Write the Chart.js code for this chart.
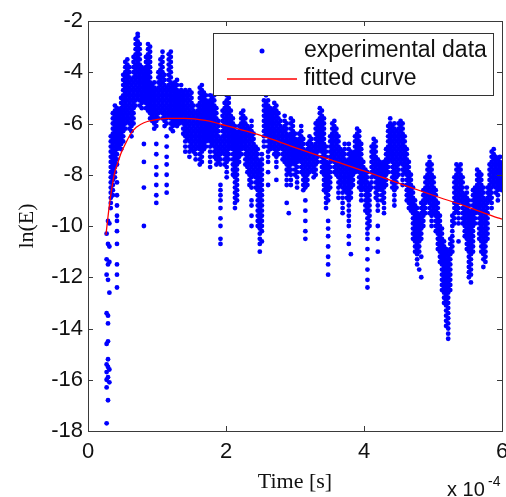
<!DOCTYPE html>
<html>
<head>
<meta charset="utf-8">
<script src="https://cdn.jsdelivr.net/npm/chart.js@4.4.1/dist/chart.umd.min.js"></script>
<style>
  html, body { margin: 0; padding: 0; background: #fff; }
</style>
</head>
<body>
<canvas id="chart1" width="506" height="497"></canvas>
<script>
// time axis is in units of 1e-4 s (shown as "x 10^-4")
var xTicks = [0, 2, 4, 6];
var yTicks = [-18, -16, -14, -12, -10, -8, -6, -4, -2];

// experimental data: each time column holds the ln(E) dots read at that time
var expTime = [
  0.27,0.29,0.31,0.33,0.36,0.39,0.42,0.45,0.48,0.51,
  0.54,0.57,0.60,0.63,0.66,0.69,0.72,0.75,0.78,0.81,
  0.84,0.87,0.90,0.93,0.96,0.99,1.02,1.05,1.08,1.11,
  1.14,1.17,1.20,1.23,1.26,1.29,1.32,1.35,1.38,1.41,
  1.44,1.47,1.50,1.53,1.56,1.59,1.62,1.65,1.68,1.71,
  1.74,1.77,1.80,1.83,1.86,1.89,1.92,1.95,1.98,2.01,
  2.04,2.07,2.10,2.13,2.16,2.19,2.22,2.25,2.28,2.31,
  2.34,2.37,2.40,2.43,2.46,2.49,2.52,2.55,2.58,2.61,
  2.64,2.67,2.70,2.73,2.76,2.79,2.82,2.85,2.88,2.91,
  2.94,2.97,3.00,3.03,3.06,3.09,3.12,3.15,3.18,3.21,
  3.24,3.27,3.30,3.33,3.36,3.39,3.42,3.45,3.48,3.51,
  3.54,3.57,3.60,3.63,3.66,3.69,3.72,3.75,3.78,3.81,
  3.84,3.87,3.90,3.93,3.96,3.99,4.02,4.05,4.08,4.11,
  4.14,4.17,4.20,4.23,4.26,4.29,4.32,4.35,4.38,4.41,
  4.44,4.47,4.50,4.53,4.56,4.59,4.62,4.65,4.68,4.71,
  4.74,4.77,4.80,4.83,4.86,4.89,4.92,4.95,4.98,5.01,
  5.04,5.07,5.10,5.13,5.16,5.19,5.22,5.25,5.28,5.31,
  5.34,5.37,5.40,5.43,5.46,5.49,5.52,5.55,5.58,5.61,
  5.64,5.67,5.70,5.73,5.76,5.79,5.82,5.85,5.88,5.91,
  5.94,5.97,6.00
];

var expLnE = [
  // 0.27 - 0.51
  [-10.3,-11.3,-11.9,-13.4,-14.6,-15.4,-15.7,-16,-16.3,-17.7],
  [-9.8,-10.7,-11.5,-12.1,-13.5,-13.8,-14.5,-15.2,-15.5,-15.9,-16.8],
  [-9.9,-10.8,-11.4,-12.6,-15.6,-16.1],
  [-6.5,-6.7,-6.9,-7.1,-7.3,-7.5,-7.7,-7.9,-8.1,-8.3,-8.5,-8.7,-8.9,-9.1,-9.3],
  [-5.6,-5.8,-6,-6.2,-6.4,-6.6,-6.8,-7,-7.2,-7.4,-7.6,-7.8,-8,-8.2,-8.4,-8.6,-8.8],
  [-5.3,-5.5,-5.7,-5.9,-6.1,-6.3,-6.5,-6.7,-6.9,-7.1,-7.3,-7.5,-7.7,-7.9,-8.1],
  [-5.4,-5.6,-5.8,-6,-6.2,-6.4,-6.6,-6.8,-7,-7.2,-7.4,-7.6,-8.3,-8.8,-9.2,-9.6,-9.8,-10.2,-10.7,-11.5,-11.9,-12.4],
  [-5.5,-5.7,-5.9,-6.1,-6.3,-6.5,-6.7,-6.9],
  [-5,-5.2,-5.4,-5.6,-5.8,-6,-6.2,-6.4,-6.6,-6.8,-7],
  [-4.1,-4.3,-4.5,-4.7,-4.9,-5.1,-5.3,-5.5,-5.7,-5.9,-6.1,-6.3,-6.5,-6.7],
  // 0.54 - 0.81
  [-3.6,-3.8,-4,-4.2,-4.4,-4.6,-4.8,-5,-5.2,-5.4,-5.6,-5.8,-6,-6.2],
  [-3.5,-3.7,-3.9,-4.1,-4.3,-4.5,-4.7,-4.9,-5.1,-5.3,-5.5,-5.7,-5.9],
  [-3.8,-4,-4.2,-4.4,-4.6,-4.8,-5,-5.2,-5.4,-5.6,-5.8,-6,-6.2],
  [-4.3,-4.5,-4.7,-4.9,-5.1,-5.3,-5.5,-5.7,-5.9,-6.1,-6.3,-6.5],
  [-3.4,-3.6,-3.8,-4,-4.2,-4.4,-4.6,-4.8,-5,-5.2,-5.4,-5.6,-5.8,-6],
  [-2.7,-2.9,-3.1,-3.3,-3.5,-3.7,-3.9,-4.1,-4.3,-4.5,-4.7,-4.9,-5.1,-5.3],
  [-2.5,-2.6,-2.8,-3,-3.2,-3.4,-3.6,-3.8,-4,-4.2,-4.4,-4.6,-4.8,-5],
  [-2.9,-3.1,-3.3,-3.5,-3.7,-3.9,-4.1,-4.3,-4.5,-4.7,-4.9,-5.1,-5.3],
  [-3.8,-4,-4.2,-4.4,-4.6,-4.8,-5,-5.2,-5.4],
  [-3.9,-4.1,-4.3,-4.5,-4.7,-4.9,-5.1,-6.8,-7.5,-8.5,-10],
  // 0.84 - 1.11
  [-3.4,-3.6,-3.8,-4,-4.2,-4.4,-4.6,-4.8,-5,-5.2,-5.4],
  [-2.9,-3.1,-3.3,-3.5,-3.7,-3.9,-4.1,-4.3,-4.5,-4.7,-4.9,-5.1,-5.3,-5.5],
  [-3,-3.2,-3.4,-3.6,-3.8,-4,-4.2,-4.4,-4.6,-4.8,-5,-5.2,-5.4,-5.6,-5.8],
  [-4.5,-4.7,-4.9,-5.1,-5.3,-5.5,-5.7,-5.9],
  [-4.4,-4.6,-4.8,-5,-5.2,-5.4,-5.6,-5.8,-6,-6.2],
  [-4.7,-4.9,-5.1,-5.3,-5.5,-5.7,-5.9,-6.1,-6.8,-7.2,-7.7,-8,-8.4,-8.8,-9.1],
  [-4,-4.2,-4.4,-4.6,-4.8,-5,-5.2,-5.4,-5.6,-5.8],
  [-3.5,-3.7,-3.9,-4.1,-4.3,-4.5,-4.7,-4.9,-5.1,-5.3,-5.5],
  [-3.2,-3.4,-3.6,-3.8,-4,-4.2,-4.4,-4.6,-4.8,-5,-5.2,-5.4,-5.6,-5.8],
  [-4.1,-4.3,-4.5,-4.7,-4.9,-5.1,-5.3,-5.5,-5.7,-5.9,-6.1],
  // 1.14 - 1.41
  [-4.6,-4.8,-5,-5.2,-5.4,-5.6,-5.8,-6,-6.5,-6.9,-7.3,-7.6,-8,-8.4,-8.7],
  [-3.3,-3.5,-3.7,-3.9,-4.1,-4.3,-4.5,-4.7,-4.9,-5.1,-5.3,-5.5,-5.7],
  [-3.2,-3.4,-3.6,-3.8,-4,-4.2,-4.4,-4.6,-4.8,-5,-5.2,-5.4,-5.6,-5.8,-6,-6.2],
  [-4.5,-4.7,-4.9,-5.1,-5.3,-5.5,-5.7,-5.9,-6.1,-6.3],
  [-4.4,-4.6,-4.8,-5,-5.2,-5.4,-5.6,-5.8,-6],
  [-4.3,-4.5,-4.7,-4.9,-5.1,-5.3,-5.5,-5.7,-5.9,-6.1],
  [-4.8,-5,-5.2,-5.4,-5.6,-5.8,-6],
  [-4.5,-4.7,-4.9,-5.1,-5.3,-5.5,-5.7,-5.9],
  [-4.8,-5,-5.2,-5.4,-5.6,-5.8,-6,-6.2,-6.4],
  [-4.7,-4.9,-5.1,-5.3,-5.5,-5.7,-5.9,-6.1,-6.3,-6.5,-6.7,-6.9,-7.1],
  // 1.44 - 1.71
  [-4.8,-5,-5.2,-5.4,-5.6,-5.8,-6,-6.2,-6.4,-6.6],
  [-4.7,-4.9,-5.1,-5.3,-5.5,-5.7,-5.9,-6.1,-6.3,-6.5,-6.7,-6.9,-7.1,-7.3],
  [-4.8,-5,-5.2,-5.4,-5.6,-5.8,-6,-6.2,-6.4,-6.6,-6.8,-7],
  [-5.3,-5.5,-5.7,-5.9,-6.1,-6.3,-6.5,-6.7,-6.9,-7.1],
  [-5.6,-5.8,-6,-6.2,-6.4,-6.6,-6.8,-7,-7.2,-7.4],
  [-5.3,-5.5,-5.7,-5.9,-6.1,-6.3,-6.5,-6.7,-6.9],
  [-4.6,-4.8,-5,-5.2,-5.4,-5.6,-5.8,-6,-6.2,-6.4,-6.6,-6.8,-7,-7.2,-7.4,-7.6],
  [-4.5,-4.7,-4.9,-5.1,-5.3,-5.5,-5.7,-5.9,-6.1,-6.3,-6.5,-6.7,-6.9,-7.1,-7.3,-7.5],
  [-4.8,-5,-5.2,-5.4,-5.6,-5.8,-6,-6.2,-6.4,-6.6,-6.8,-7],
  [-4.9,-5.1,-5.3,-5.5,-5.7,-5.9,-6.1,-6.3,-6.5,-6.7,-6.9],
  // 1.74 - 2.01
  [-5.2,-5.4,-5.6,-5.8,-6,-6.2,-6.4,-6.6],
  [-4.9,-5.1,-5.3,-5.5,-5.7,-5.9,-6.1,-6.3,-6.5,-6.7,-6.9,-7.1,-7.3,-7.5,-7.7],
  [-5,-5.2,-5.4,-5.6,-5.8,-6,-6.2,-6.4,-6.6,-6.8],
  [-4.9,-5.1,-5.3,-5.5,-5.7,-5.9,-6.1,-6.3,-6.5,-6.7,-6.9,-7.1,-7.3],
  [-5.4,-5.6,-5.8,-6,-6.2,-6.4,-6.6,-6.8,-7,-7.2,-7.4,-7.6],
  [-5.9,-6.1,-6.3,-6.5,-6.7,-6.9,-7.1,-7.3,-7.5],
  [-6.6,-6.8,-7,-7.2,-7.4,-7.6,-8.4,-8.6,-8.8,-9,-9.3,-9.7,-10,-10.5,-10.7],
  [-5.5,-5.7,-5.9,-6.1,-6.3,-6.5,-6.7,-6.9,-7.1],
  [-5.2,-5.4,-5.6,-5.8,-6,-6.2,-6.4,-6.6,-6.8,-7,-7.2,-7.4,-7.6],
  [-4.9,-5.1,-5.3,-5.5,-5.7,-5.9,-6.1,-6.3,-6.5,-6.7,-6.9,-7.1,-7.3,-7.5,-7.7,-7.9,-8.1],
  // 2.04 - 2.31
  [-5,-5.2,-5.4,-5.6,-5.8,-6,-6.2,-6.4,-6.6,-6.8,-7,-7.2,-7.4],
  [-5.5,-5.7,-5.9,-6.1,-6.3,-6.5,-6.7,-6.9],
  [-5.8,-6,-6.2,-6.4,-6.6,-6.8,-7,-7.2,-7.4,-7.6,-7.8,-8],
  [-6.1,-6.3,-6.5,-6.7,-6.9,-7.1,-7.3,-7.5,-7.7,-7.9,-8.1,-8.3,-8.5,-8.7,-8.9,-9.1,-9.3],
  [-6.4,-6.6,-6.8,-7,-7.2,-7.4,-7.6,-7.8,-8,-8.2,-8.4,-8.6,-8.8,-9],
  [-6.1,-6.3,-6.5,-6.7,-6.9,-7.1,-7.3,-7.5],
  [-5.6,-5.8,-6,-6.2,-6.4,-6.6,-6.8,-7,-7.2],
  [-5.5,-5.7,-5.9,-6.1,-6.3,-6.5,-6.7,-6.9],
  [-5.8,-6,-6.2,-6.4,-6.6,-6.8,-7,-7.2,-7.4,-7.6],
  [-6.1,-6.3,-6.5,-6.7,-6.9,-7.1,-7.3,-7.5,-7.7,-7.9],
  // 2.34 - 2.61
  [-6.2,-6.4,-6.6,-6.8,-7,-7.2,-7.4,-7.6,-7.8,-8,-8.2,-8.4],
  [-5.9,-6.1,-6.3,-6.5,-6.7,-6.9,-7.1,-7.3,-7.5,-7.7,-7.9,-8.1,-8.3,-8.5,-9,-9.2,-9.6,-10],
  [-6.4,-6.6,-6.8,-7,-7.2,-7.4,-7.6,-7.8,-8],
  [-6.9,-7.1,-7.3,-7.5,-7.7,-7.9,-8.1,-8.3,-8.5],
  [-7,-7.2,-7.4,-7.6,-7.8,-8,-8.2,-8.4,-8.6,-8.8,-9,-9.2,-9.4,-9.6,-9.8,-10],
  [-7.5,-7.7,-7.9,-8.1,-8.3,-8.5,-8.7,-8.9,-9.1,-9.3,-9.5,-9.7,-9.9,-10.1,-10.3,-10.5,-10.7,-11],
  [-7.2,-7.4,-7.6,-7.8,-8,-8.2,-8.4,-8.6,-8.8,-9,-9.2,-9.4,-9.6,-9.8,-10,-10.2,-10.6],
  [-5.1,-5.3,-5.5,-5.7,-5.9,-6.1,-6.3,-6.5,-6.7,-6.9],
  [-4.9,-5.2,-5.4,-5.6,-5.8,-6,-6.2,-6.4],
  [-5.1,-5.3,-5.5,-5.7,-5.9,-6.1,-6.3,-6.5,-6.7,-6.9,-7.1,-7.3,-7.5,-7.9,-8.4],
  // 2.64 - 2.91
  [-5.4,-5.6,-5.8,-6,-6.2,-6.4,-6.6,-6.8,-7],
  [-5.5,-5.7,-5.9,-6.1,-6.3,-6.5,-6.7,-6.9],
  [-5.2,-5.4,-5.6,-5.8,-6,-6.2,-6.4,-6.6,-6.8,-7,-7.2],
  [-5.3,-5.5,-5.7,-5.9,-6.1,-6.3,-6.5,-6.7,-6.9,-7.1,-7.3,-7.5,-7.7,-8.2],
  [-5.6,-5.8,-6,-6.2,-6.4,-6.6,-6.8,-7,-7.2],
  [-5.9,-6.1,-6.3,-6.5,-6.7,-6.9],
  [-6.2,-6.4,-6.6,-6.8,-7,-7.2,-7.4],
  [-5.7,-5.9,-6.1,-6.3,-6.5,-6.7,-6.9,-7.1,-7.3,-7.5],
  [-6,-6.2,-6.4,-6.6,-6.8,-7,-7.2,-7.4,-7.6,-7.8,-8,-8.2,-8.4,-9.1],
  [-6.5,-6.7,-6.9,-7.1,-7.3,-7.5,-7.7,-7.9,-9.5],
  // 2.94 - 3.21
  [-5.8,-6,-6.2,-6.4,-6.6,-6.8,-7,-7.2,-7.4,-7.6,-7.8,-8,-8.2,-8.4],
  [-5.9,-6.1,-6.3,-6.5,-6.7,-6.9,-7.1,-7.3,-7.5],
  [-6.4,-6.6,-6.8,-7,-7.2,-7.4,-7.6,-7.8,-8],
  [-6.7,-6.9,-7.1,-7.3,-7.5,-7.7,-7.9,-8.1,-8.3,-8.5],
  [-6.4,-6.6,-6.8,-7,-7.2,-7.4],
  [-6.1,-6.3,-6.5,-6.7,-6.9,-7.1,-7.3,-7.5,-7.7,-7.9],
  [-6.6,-6.8,-7,-7.2,-7.4,-7.6,-7.8,-8,-8.2,-8.4,-8.6],
  [-7.1,-7.3,-7.5,-7.7,-7.9,-8.1,-8.3,-8.5,-9,-9.4,-9.8,-10.2,-10.5],
  [-6.8,-7,-7.2,-7.4,-7.6,-7.8,-8,-8.2,-8.4],
  [-6.5,-6.7,-6.9,-7.1,-7.3,-7.5,-7.7,-7.9],
  // 3.24 - 3.51
  [-6.6,-6.8,-7,-7.2,-7.4,-7.6,-7.8],
  [-6.9,-7.1,-7.3,-7.5,-7.7,-7.9,-8.1],
  [-6,-6.2,-6.4,-6.6,-6.8,-7,-7.2,-7.4,-7.6,-7.8,-8],
  [-5.9,-6.1,-6.3,-6.5,-6.7,-6.9,-7.1,-7.3,-7.5],
  [-5.4,-5.6,-5.8,-6,-6.2,-6.4,-6.6,-6.8,-7],
  [-5.5,-5.7,-5.9,-6.1,-6.3,-6.5,-6.7,-6.9,-7.1,-7.3,-7.5,-7.7,-7.9],
  [-5.8,-6,-6.2,-6.4,-6.6,-6.8,-7,-7.2,-7.4,-7.6,-7.8,-8,-8.2,-8.4,-8.6],
  [-6.9,-7.1,-7.3,-7.5,-7.7,-7.9,-8.1,-8.3,-8.5,-8.7,-8.9,-9.1,-9.3],
  [-7.6,-7.8,-8,-8.2,-8.4,-8.6,-8.8,-9,-9.8,-10.1,-10.4,-10.8,-11.2,-11.5,-11.9],
  [-6.5,-6.7,-6.9,-7.1,-7.3,-7.5,-7.7,-7.9,-8.1,-8.3,-8.5],
  // 3.54 - 3.81
  [-6,-6.2,-6.4,-6.6,-6.8,-7,-7.2,-7.4],
  [-5.9,-6.1,-6.3,-6.5,-6.7,-6.9,-7.1,-7.3,-7.5,-7.7,-7.9],
  [-6.2,-6.4,-6.6,-6.8,-7,-7.2,-7.4,-7.6,-7.8,-8],
  [-6.5,-6.7,-6.9,-7.1,-7.3,-7.5,-7.7,-7.9,-8.1,-8.3,-8.5,-8.7,-8.9],
  [-7,-7.2,-7.4,-7.6,-7.8,-8,-8.2,-8.4],
  [-7.1,-7.3,-7.5,-7.7,-7.9,-8.1,-8.3,-8.5,-8.7,-8.9,-9.1,-9.3,-9.5],
  [-6.8,-7,-7.2,-7.4,-7.6,-7.8,-8,-8.2,-8.4,-8.6],
  [-7.5,-7.7,-7.9,-8.1,-8.3,-8.5,-8.7,-8.9],
  [-6.8,-7,-7.2,-7.4,-7.6,-7.8,-8,-8.2,-8.4,-8.6,-8.8,-9,-9.2,-9.4,-9.6,-9.8,-10,-10.4,-10.7],
  [-7.1,-7.3,-7.5,-7.7,-7.9,-8.1,-8.3,-8.5,-8.7,-8.9,-11.1],
  // 3.84 - 4.11
  [-7.2,-7.4,-7.6,-7.8,-8,-8.2,-8.4],
  [-6.5,-6.7,-6.9,-7.1,-7.3,-7.5,-7.7,-7.9],
  [-6.2,-6.4,-6.6,-6.8,-7,-7.2,-7.4,-7.6,-7.8],
  [-6.3,-6.5,-6.7,-6.9,-7.1,-7.3,-7.5,-7.7,-7.9,-8.1,-8.3,-8.5],
  [-6.8,-7,-7.2,-7.4,-7.6,-7.8,-8,-8.2,-8.4,-8.6,-8.8,-9],
  [-7.5,-7.7,-7.9,-8.1,-8.3,-8.5],
  [-7.8,-8,-8.2,-8.4,-8.6,-8.8,-9,-9.2,-9.4],
  [-7.9,-8.1,-8.3,-8.5,-8.7,-8.9,-9.1,-9.3,-9.5,-9.7,-9.9,-10.1,-10.3,-10.5,-10.9,-11.3,-11.7,-12.1,-12.4],
  [-8.4,-8.6,-8.8,-9,-9.2,-9.4,-9.6,-9.8,-10],
  [-6.9,-7.1,-7.3,-7.5,-7.7,-7.9,-8.1,-8.3,-8.5],
  // 4.14 - 4.41
  [-6.6,-6.8,-7,-7.2,-7.4,-7.6,-7.8,-8],
  [-6.7,-6.9,-7.1,-7.3,-7.5,-7.7,-7.9,-8.1,-8.3,-8.5,-8.7,-8.9],
  [-7.4,-7.6,-7.8,-8,-8.2,-8.4,-8.6,-8.8,-9,-9.2,-9.4,-10,-10.5,-11],
  [-7.5,-7.7,-7.9,-8.1,-8.3,-8.5],
  [-7.6,-7.8,-8,-8.2,-8.4,-8.6,-8.8,-9],
  [-7.5,-7.7,-7.9,-8.1,-8.3,-8.5,-8.7,-8.9,-9.1,-9.3,-9.5],
  [-7,-7.2,-7.4,-7.6,-7.8,-8,-8.2,-8.4],
  [-6.1,-6.3,-6.5,-6.7,-6.9,-7.1,-7.3,-7.5,-7.7,-7.9],
  [-5.8,-6,-6.2,-6.4,-6.6,-6.8,-7,-7.2,-7.4],
  [-6.1,-6.3,-6.5,-6.7,-6.9,-7.1,-7.3,-7.5,-7.7,-7.9,-8.1,-8.3,-8.5],
  // 4.44 - 4.71
  [-6,-6.2,-6.4,-6.6,-6.8,-7,-7.2,-7.4,-7.6,-7.8,-8,-8.2,-8.4,-8.6,-8.8,-9,-9.2],
  [-6.3,-6.5,-6.7,-6.9,-7.1,-7.3,-7.5,-7.7,-7.9,-8.1,-8.3,-8.5],
  [-6,-6.2,-6.4,-6.6,-6.8,-7,-7.2,-7.4,-7.6,-7.8,-8],
  [-5.9,-6.1,-6.3,-6.5,-6.7,-6.9,-7.1,-7.3,-7.5],
  [-6,-6.2,-6.4,-6.6,-6.8,-7,-7.2,-7.4,-7.6,-7.8,-8,-8.2,-8.4],
  [-6.5,-6.7,-6.9,-7.1,-7.3,-7.5,-7.7,-7.9],
  [-7,-7.2,-7.4,-7.6,-7.8,-8,-8.2,-8.4,-8.6,-8.8,-9],
  [-7.5,-7.7,-7.9,-8.1,-8.3,-8.5,-8.7,-8.9,-9.1,-9.3],
  [-8,-8.2,-8.4,-8.6,-8.8,-9,-9.2,-9.4],
  [-8.5,-8.7,-8.9,-9.1,-9.3,-9.5,-9.7,-9.9,-10.1,-10.3,-10.5],
  // 4.74 - 5.01
  [-9,-9.2,-9.4,-9.6,-9.8,-10,-10.2,-10.4,-10.6,-10.8,-11],
  [-9.3,-9.5,-9.7,-9.9,-10.1,-10.3,-10.5,-10.7,-10.9,-11.1,-11.3,-11.5],
  [-9.6,-9.8,-10,-10.2,-10.4,-10.6,-10.8,-11,-11.7],
  [-9.1,-9.3,-9.5,-9.7,-9.9,-10.1,-10.3,-10.5,-11.2,-12],
  [-8.6,-8.8,-9,-9.2,-9.4,-9.6,-9.8,-10],
  [-8.1,-8.3,-8.5,-8.7,-8.9,-9.1,-9.3,-9.5],
  [-7.6,-7.8,-8,-8.2,-8.4,-8.6,-8.8,-9],
  [-7.3,-7.5,-7.7,-7.9,-8.1,-8.3,-8.5,-8.7,-8.9,-9.1,-9.3,-9.5],
  [-7.6,-7.8,-8,-8.2,-8.4,-8.6,-8.8,-9,-9.2,-9.4,-9.6,-9.8,-10],
  [-8.1,-8.3,-8.5,-8.7,-8.9,-9.1,-9.3,-9.5],
  // 5.04 - 5.31
  [-8.6,-8.8,-9,-9.2,-9.4,-9.6,-9.8,-10,-10.2],
  [-9.1,-9.3,-9.5,-9.7,-9.9,-10.1,-10.3,-10.5,-10.7,-10.9],
  [-9.6,-9.8,-10,-10.2,-10.4,-10.6,-10.8,-11,-11.2,-11.4],
  [-10.1,-10.3,-10.5,-10.7,-10.9,-11.1,-11.3,-11.5,-11.7,-11.9,-12.1,-12.3,-12.5],
  [-10.6,-10.8,-11,-11.2,-11.4,-11.6,-11.8,-12,-12.2,-12.4,-12.6,-12.8,-13],
  [-10.9,-11.1,-11.3,-11.5,-11.7,-11.9,-12.1,-12.3,-12.5,-12.7,-12.9,-13.1,-13.3,-13.5,-13.7,-13.9],
  [-11,-11.2,-11.4,-11.6,-11.8,-12,-12.2,-12.4,-12.6,-12.8,-13,-13.2,-13.4,-13.6,-13.8,-14,-14.2,-14.4],
  [-10.5,-10.7,-10.9,-11.1,-11.3,-11.5,-11.7,-11.9,-12.1,-12.3,-12.5],
  [-9.6,-9.8,-10,-10.2,-10.4,-10.6,-10.8,-11],
  [-8.1,-8.3,-8.5,-8.7,-8.9,-9.1,-9.3,-9.5,-9.7,-9.9],
  // 5.34 - 5.61
  [-7.6,-7.8,-8,-8.2,-8.4,-8.6,-8.8,-9,-9.2,-9.4],
  [-7.7,-7.9,-8.1,-8.3,-8.5,-8.7,-8.9,-9.1,-9.3,-9.5,-9.7,-9.9,-10.6],
  [-7.6,-7.8,-8,-8.2,-8.4,-8.6,-8.8,-9],
  [-8.1,-8.3,-8.5,-8.7,-8.9,-9.1,-9.3,-9.5,-9.7,-9.9],
  [-8.8,-9,-9.2,-9.4,-9.6,-9.8,-10,-10.2,-10.4],
  [-8.5,-8.7,-8.9,-9.1,-9.3,-9.5,-9.7,-9.9,-10.1,-10.3,-10.5,-10.7,-10.9],
  [-9,-9.2,-9.4,-9.6,-9.8,-10,-10.2,-10.4,-10.6,-10.8,-11,-11.2,-11.4,-11.6,-11.8,-12],
  [-9.5,-9.7,-9.9,-10.1,-10.3,-10.5,-10.7,-10.9,-11.1,-11.3,-11.5,-11.7,-11.9,-12.2],
  [-8.6,-8.8,-9,-9.2,-9.4,-9.6,-9.8,-10,-10.2,-10.4,-10.6,-10.8,-11],
  [-8.5,-8.7,-8.9,-9.1,-9.3,-9.5,-9.7,-9.9],
  // 5.64 - 5.91
  [-7.8,-8,-8.2,-8.4,-8.6,-8.8,-9,-9.2,-9.4],
  [-7.9,-8.1,-8.3,-8.5,-8.7,-8.9,-9.1,-9.3,-9.5,-9.7,-9.9,-10.1,-10.3,-10.5],
  [-8,-8.2,-8.4,-8.6,-8.8,-9,-9.2,-9.4,-9.6,-9.8,-10,-10.2,-10.4,-10.6,-10.8,-11],
  [-8.5,-8.7,-8.9,-9.1,-9.3,-9.5,-9.7,-9.9,-10.1,-10.3,-10.5,-10.7,-10.9,-11.1,-11.3,-11.6],
  [-9,-9.2,-9.4,-9.6,-9.8,-10,-10.2,-10.4,-10.6,-10.8,-11,-11.2,-11.4],
  [-8.5,-8.7,-8.9,-9.1,-9.3,-9.5,-9.7,-9.9,-10.1,-10.3,-10.5],
  [-7.6,-7.8,-8,-8.2,-8.4,-8.6,-8.8,-9],
  [-7.1,-7.3,-7.5,-7.7,-7.9,-8.1,-8.3,-8.5,-8.7,-8.9,-9.1,-9.3],
  [-7,-7.2,-7.4,-7.6,-7.8,-8,-8.2,-8.4],
  [-7.3,-7.5,-7.7,-7.9,-8.1,-8.3,-8.5,-8.7],
  // 5.94 - 6.00
  [-7.4,-7.6,-7.8,-8,-8.2,-8.4,-8.6,-8.8,-9],
  [-7.3,-7.5,-7.7,-7.9,-8.1,-8.3,-8.5],
  [-7.6,-7.8,-8,-8.2,-8.4,-8.6]
];

// fitted curve
var fitTime = [0.26, 0.3, 0.33, 0.38, 0.43, 0.48, 0.55, 0.62, 0.7, 0.81, 0.95, 1.14, 1.4, 1.7, 2.0, 2.3, 2.6, 2.94, 3.5, 4.0, 4.45, 5.0, 5.5, 5.94, 6.0];
var fitLnE = [-10.35, -9.4, -8.8, -8.0, -7.55, -7.15, -6.75, -6.4, -6.15, -5.97, -5.87, -5.8, -5.8, -5.88, -6.08, -6.3, -6.55, -6.88, -7.4, -7.85, -8.28, -8.8, -9.25, -9.68, -9.73];

var expPoints = [];
expTime.forEach(function(t, i) {
  (expLnE[i] || []).forEach(function(v) {
    expPoints.push({x: t, y: v});
  });
});
var fitPoints = fitTime.map(function(t, i) { return {x: t, y: fitLnE[i]}; });

var axisColor = '#3a3a3a';
var sansFont = '"Liberation Sans", Arial, sans-serif';
var serifFont = '"Liberation Serif", "Times New Roman", serif';

// box, inward ticks, legend and axis titles in the MATLAB style
var frame = {
  id: 'frame',
  afterDraw: function(chart) {
    var ctx = chart.ctx;
    var a = chart.chartArea;
    var xs = chart.scales.x, ys = chart.scales.y;
    ctx.save();
    ctx.strokeStyle = axisColor;
    ctx.lineWidth = 1;
    ctx.strokeRect(Math.round(a.left) + 0.5, Math.round(a.top) + 0.5,
                   Math.round(a.right - a.left), Math.round(a.bottom - a.top));
    ctx.beginPath();
    xTicks.forEach(function(t) {
      var px = Math.round(xs.getPixelForValue(t)) + 0.5;
      ctx.moveTo(px, a.bottom); ctx.lineTo(px, a.bottom - 5);
      ctx.moveTo(px, a.top); ctx.lineTo(px, a.top + 5);
    });
    yTicks.forEach(function(t) {
      var py = Math.round(ys.getPixelForValue(t)) + 0.5;
      ctx.moveTo(a.left, py); ctx.lineTo(a.left + 5, py);
      ctx.moveTo(a.right, py); ctx.lineTo(a.right - 5, py);
    });
    ctx.stroke();

    // legend
    ctx.fillStyle = '#fff';
    ctx.fillRect(213.5, 33.5, 280, 62);
    ctx.strokeStyle = '#333';
    ctx.strokeRect(213.5, 33.5, 280, 62);
    ctx.fillStyle = '#0000ff';
    ctx.beginPath();
    ctx.arc(262, 51, 2.5, 0, Math.PI * 2);
    ctx.fill();
    ctx.strokeStyle = '#ff0000';
    ctx.lineWidth = 1.3;
    ctx.beginPath();
    ctx.moveTo(227, 79); ctx.lineTo(297, 79);
    ctx.stroke();
    ctx.fillStyle = '#111';
    ctx.font = '23px ' + sansFont;
    ctx.textAlign = 'left';
    ctx.textBaseline = 'middle';
    ctx.fillText('experimental data', 304, 51);
    ctx.fillText('fitted curve', 304, 79);

    // axis titles
    ctx.textAlign = 'center';
    ctx.font = '22px ' + serifFont;
    ctx.fillText('Time [s]', (a.left + a.right) / 2, 482);
    ctx.save();
    ctx.translate(27, (a.top + a.bottom) / 2);
    ctx.rotate(-Math.PI / 2);
    ctx.fillText('ln(E)', 0, 0);
    ctx.restore();

    // exponent label
    ctx.textAlign = 'left';
    ctx.textBaseline = 'alphabetic';
    ctx.font = '20px ' + sansFont;
    ctx.fillText('x 10', 447, 496);
    ctx.font = '14px ' + sansFont;
    ctx.fillText('-4', 488, 486);
    ctx.restore();
  }
};

var ctx = document.getElementById('chart1').getContext('2d');
var myChart = new Chart(ctx, {
  type: 'scatter',
  data: {
    datasets: [{
      label: 'fitted curve',
      data: fitPoints,
      showLine: true,
      borderColor: '#ff0000',
      borderWidth: 1.3,
      pointRadius: 0,
      cubicInterpolationMode: 'monotone',
      order: 0
    },
    {
      label: 'experimental data',
      data: expPoints,
      backgroundColor: '#0000ff',
      borderWidth: 0,
      pointRadius: 2.4,
      order: 1
    }]
  },
  options: {
    responsive: false,
    animation: false,
    layout: { padding: { top: 21, right: 3, left: 0, bottom: 0 } },
    plugins: {
      legend: { display: false },
      tooltip: { enabled: false }
    },
    scales: {
      x: {
        type: 'linear',
        min: 0,
        max: 6,
        afterFit: function(scale) {
          scale.height = 66;
          scale.paddingLeft = 0;
          scale.paddingRight = 0;
        },
        ticks: {
          stepSize: 2,
          autoSkip: false,
          maxRotation: 0,
          padding: 8,
          color: '#111',
          font: { family: sansFont, size: 22 }
        },
        grid: { display: false, drawTicks: false },
        border: { display: false }
      },
      y: {
        type: 'linear',
        min: -18,
        max: -2,
        afterFit: function(scale) {
          scale.width = 88;
        },
        ticks: {
          stepSize: 2,
          autoSkip: false,
          padding: 5,
          color: '#111',
          font: { family: sansFont, size: 22 }
        },
        grid: { display: false, drawTicks: false },
        border: { display: false }
      }
    }
  },
  plugins: [frame]
});
</script>
</body>
</html>
